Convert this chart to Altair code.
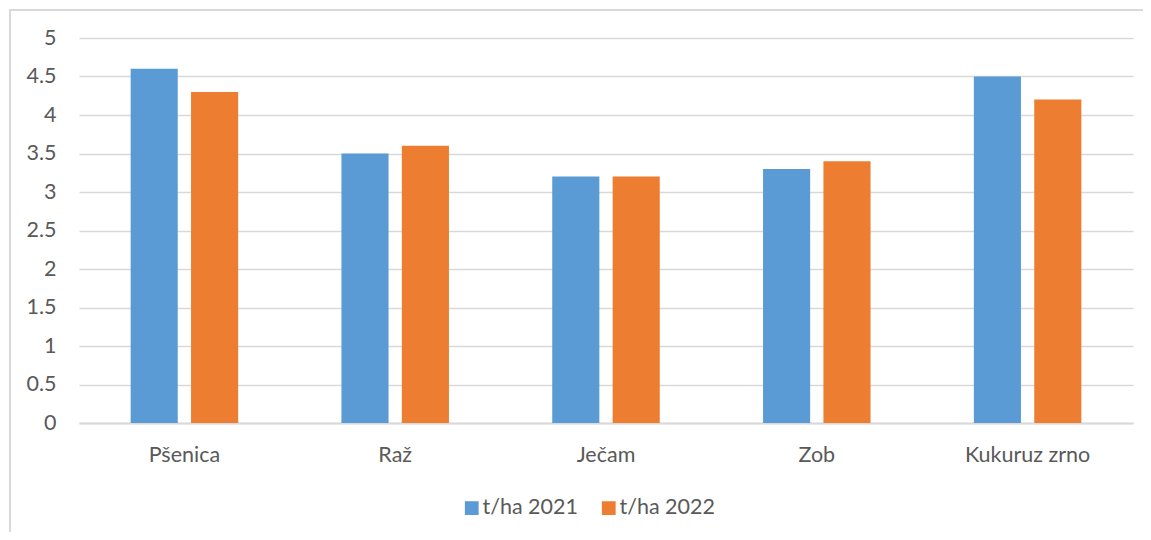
import altair as alt
import pandas as pd

categories = ["Pšenica", "Raž", "Ječam", "Zob", "Kukuruz zrno"]
series = ["t/ha 2021", "t/ha 2022"]
values_2021 = [4.6, 3.5, 3.2, 3.3, 4.5]
values_2022 = [4.3, 3.6, 3.2, 3.4, 4.2]
y_ticks = [0, 0.5, 1, 1.5, 2, 2.5, 3, 3.5, 4, 4.5, 5]
colors = ["#5B9BD5", "#ED7D31"]

rows = []
for c, a, b in zip(categories, values_2021, values_2022):
    rows.append({"kultura": c, "serija": series[0], "vrijednost": a})
    rows.append({"kultura": c, "serija": series[1], "vrijednost": b})
df = pd.DataFrame(rows)

FONT = "Lato"
FS = 21.5
TXT = "#595959"
W, H = 1054, 385

bars = alt.Chart(df).mark_bar().encode(
    x=alt.X("kultura:N", sort=categories, title=None,
            scale=alt.Scale(paddingInner=0.49, paddingOuter=0.245),
            axis=alt.Axis(labelAngle=0, labelFontSize=FS, labelColor=TXT,
                          labelFont=FONT, labelPadding=21, ticks=False,
                          domainColor="#d9d9d9", domainWidth=2, grid=False)),
    xOffset=alt.XOffset("serija:N", sort=series,
                        scale=alt.Scale(paddingInner=0.22, paddingOuter=0)),
    y=alt.Y("vrijednost:Q", title=None,
            scale=alt.Scale(domain=[0, 5], nice=False),
            axis=alt.Axis(values=y_ticks, format="~g", labelFontSize=FS,
                          labelColor=TXT, labelFont=FONT, labelPadding=23,
                          ticks=False, domain=False, gridColor="#d9d9d9",
                          gridWidth=1.3)),
    color=alt.Color("serija:N", sort=series,
                    scale=alt.Scale(domain=series, range=colors),
                    legend=alt.Legend(title=None, orient="none", legendX=382,
                                      legendY=459, direction="horizontal",
                                      symbolType="square", symbolSize=190,
                                      symbolStrokeWidth=0,
                                      labelFontSize=FS, labelColor=TXT,
                                      labelFont=FONT, columnPadding=20,
                                      labelOffset=0)),
)

border = alt.Chart(df).mark_rect(fill=None, stroke="#d9d9d9", strokeWidth=1.5).encode(
    x=alt.value(-69), x2=alt.value(W + 120), y=alt.value(-28), y2=alt.value(H + 140)
)

chart = alt.layer(border, bars).properties(
    width=W, height=H,
    autosize=alt.AutoSizeParams(type="none"),
    padding={"left": 71, "top": 30, "right": 10, "bottom": 109},
    background="white",
).configure_view(stroke=None)

chart.save("out.html", embed_options={"renderer": "svg", "actions": False})
